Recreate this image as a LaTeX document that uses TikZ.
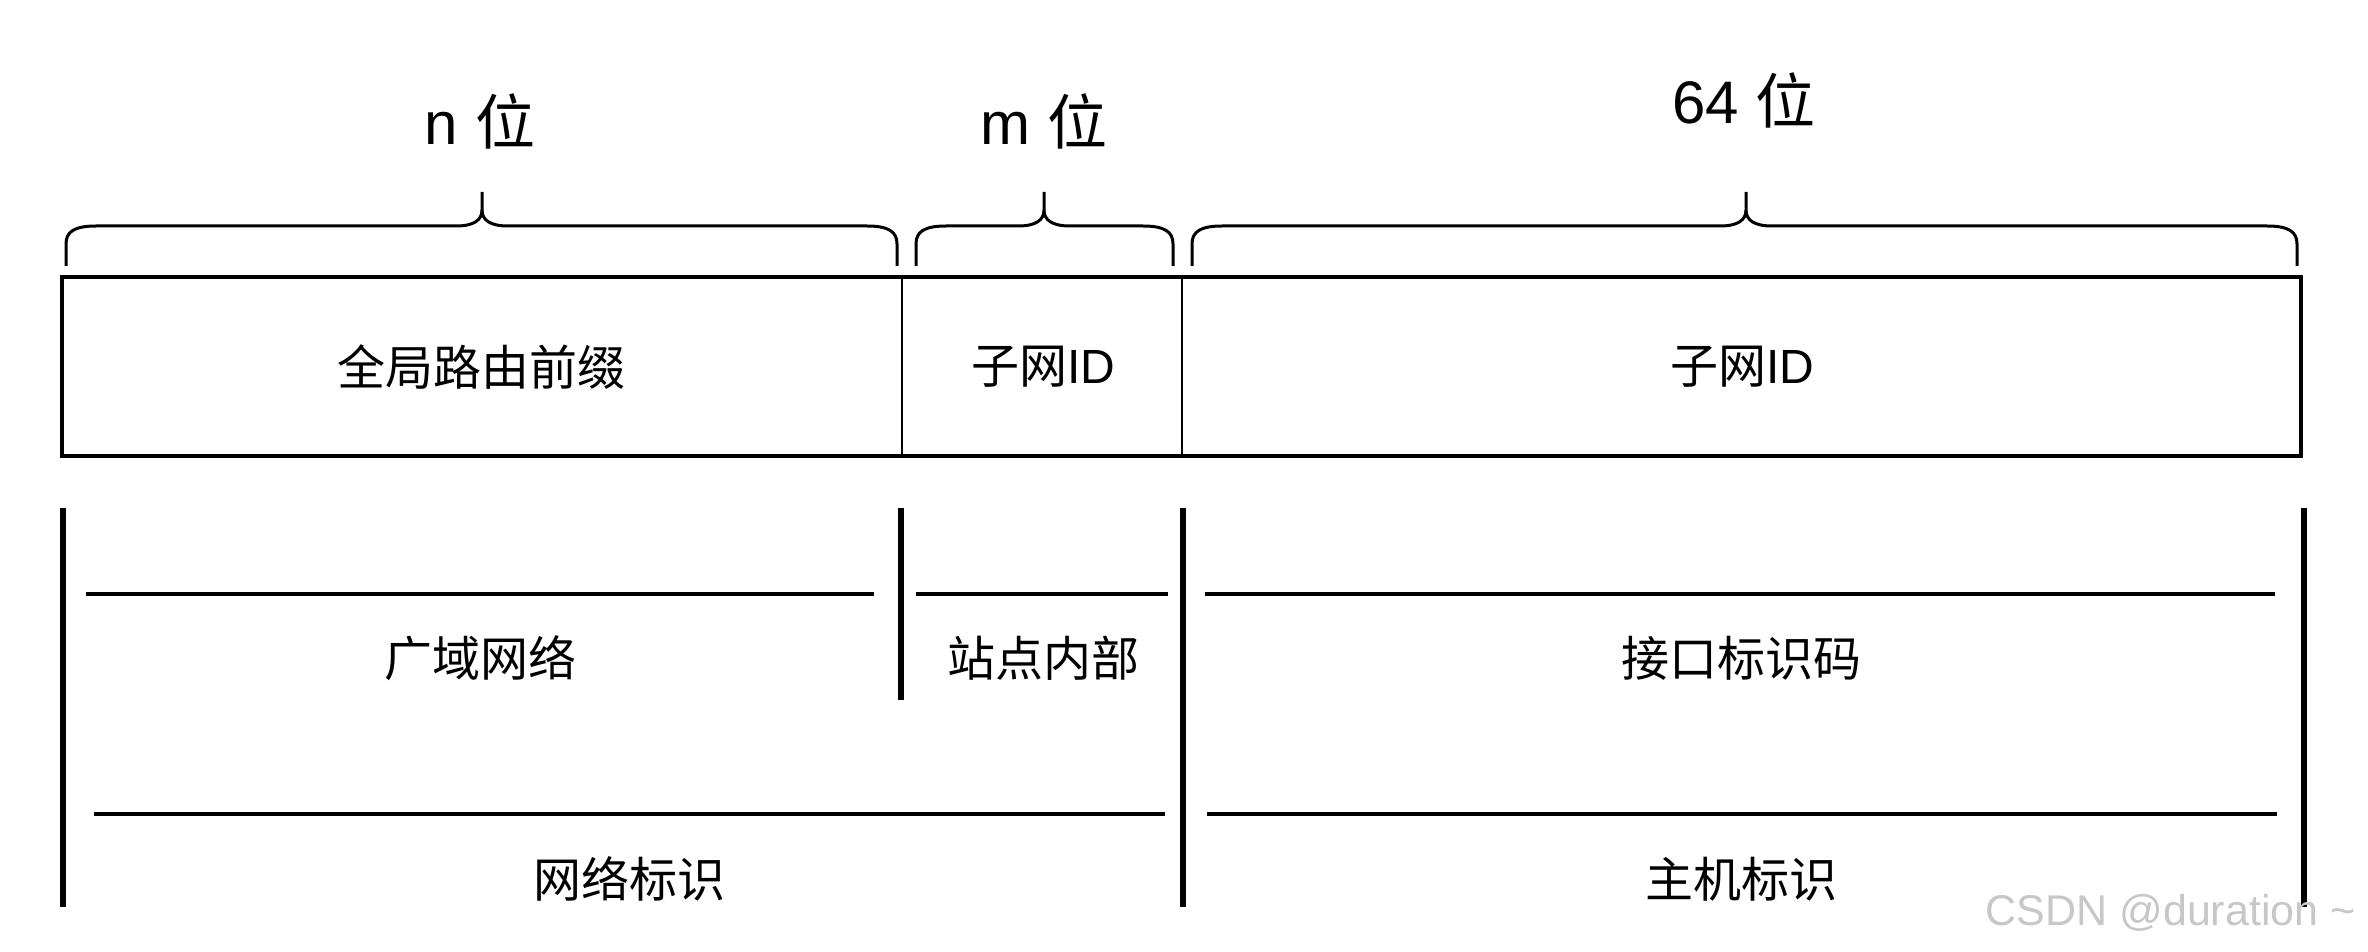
\documentclass[tikz,border=0pt]{standalone}
\usepackage{fontspec}
\setmainfont{Liberation Sans}
\newfontfamily\cjk{Noto Sans CJK SC}
\begin{document}
\begin{tikzpicture}[x=0.5pt,y=-0.5pt,
  boxline/.style={line width=1.8pt},
  divline/.style={line width=1.4pt},
  bracel/.style={line width=1.5pt, line join=round},
  vbar/.style={line width=3pt},
  hbar/.style={line width=1.6pt},
  lbl/.style={inner sep=0pt, font=\fontsize{24}{28}\selectfont},
  toplbl/.style={inner sep=0pt, font=\fontsize{30}{34}\selectfont},
  wm/.style={inner sep=0pt, text=black!22, font=\fontsize{21.5}{24}\selectfont}]
\useasboundingbox (0,0) rectangle (2368,952);
% address box
\draw[boxline] (62,277) rectangle (2301,456);
\draw[divline] (902,277) -- (902,456);
\draw[divline] (1182,277) -- (1182,456);
\node[lbl] (gp) at (481,367) {\cjk 全局路由前缀};
\node[lbl] (sub1) at (1043,367) {{\cjk 子网}ID};
\node[lbl] (sub2) at (1742,367) {{\cjk 子网}ID};
% braces
\foreach \l/\r/\t in {66/897/482, 916/1173/1044, 1192/2297/1746}{
  \draw[bracel] (\l,266) -- (\l,244) .. controls (\l,232) and (\l+8,226) .. (\l+30,226)
    -- (\t-26,226) .. controls (\t-8,226) and (\t,220) .. (\t,210) -- (\t,192);
  \draw[bracel] (\r,266) -- (\r,244) .. controls (\r,232) and (\r-8,226) .. (\r-30,226)
    -- (\t+26,226) .. controls (\t+8,226) and (\t,220) .. (\t,210);
}
\node[toplbl] (nbits) at (480,121) {n {\cjk 位}};
\node[toplbl] (mbits) at (1044,121) {m {\cjk 位}};
\node[toplbl] (sbits) at (1744,100) {64 {\cjk 位}};
% lower scale
\draw[vbar] (63,508) -- (63,907);
\draw[vbar] (901,508) -- (901,700);
\draw[vbar] (1183,508) -- (1183,907);
\draw[vbar] (2304,508) -- (2304,907);
\draw[hbar] (86,594) -- (874,594);
\draw[hbar] (916,594) -- (1168,594);
\draw[hbar] (1205,594) -- (2275,594);
\draw[hbar] (94,814) -- (1165,814);
\draw[hbar] (1207,814) -- (2277,814);
\node[lbl] (wan) at (480,658) {\cjk 广域网络};
\node[lbl] (site) at (1043,658) {\cjk 站点内部};
\node[lbl] (iid) at (1741,658) {\cjk 接口标识码};
\node[lbl] (netid) at (629,879) {\cjk 网络标识};
\node[lbl] (hostid) at (1741,879) {\cjk 主机标识};
\node[wm, anchor=east] (mark) at (2356,913) {CSDN @duration \char"7E};
\end{tikzpicture}
\end{document}
